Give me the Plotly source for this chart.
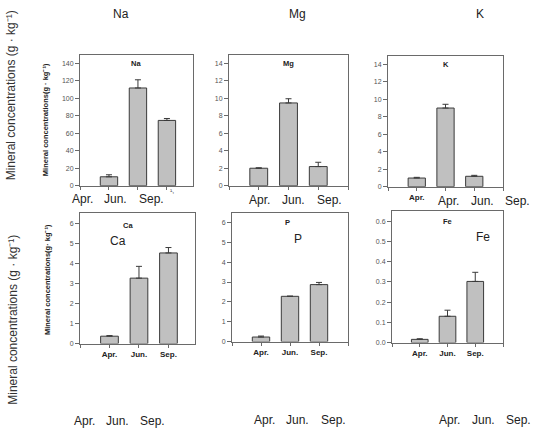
import plotly.graph_objects as go

W, H = 536, 432

months = ["Apr.", "Jun.", "Sep."]
positions = [1, 2, 3]

na = [10.2, 111.8, 74.7]
na_err = [2.3, 9.4, 2.2]
mg = [2.0, 9.47, 2.19]
mg_err = [0.05, 0.48, 0.49]
k = [0.99, 9.0, 1.19]
k_err = [0.08, 0.43, 0.11]
ca = [0.37, 3.27, 4.53]
ca_err = [0.03, 0.59, 0.27]
p = [0.23, 2.28, 2.87]
p_err = [0.05, 0.01, 0.11]
fe = [0.016, 0.130, 0.302]
fe_err = [0.003, 0.030, 0.045]

panels = [
    # name, values, errors, x-dom px, y-dom px, xrange, yrange, y ticks
    ("Na", na, na_err, (80, 193), (55, 187), [0, 3.9], [0, 150], list(range(0, 141, 20)), "{:d}"),
    ("Mg", mg, mg_err, (229, 348), (55, 187), [0, 4], [0, 15], list(range(0, 15, 2)), "{:d}"),
    ("K", k, k_err, (388, 503), (56, 188), [0, 4], [0, 15], list(range(0, 15, 2)), "{:d}"),
    ("Ca", ca, ca_err, (80, 195), (214, 346), [0, 3.9], [0, 6.55], list(range(0, 7)), "{:d}"),
    ("P", p, p_err, (232, 348), (214, 344), [0, 4], [0, 6.5], list(range(0, 7)), "{:d}"),
    ("Fe", fe, fe_err, (392, 503), (212, 345), [0, 4], [0, 0.652], [0, 0.1, 0.2, 0.3, 0.4, 0.5, 0.6], "{:.1f}"),
]

FONT = "Arial, Liberation Sans, sans-serif"
AX = "#6a6a6a"

fig = go.Figure()
layout = dict(
    width=W, height=H, margin=dict(l=0, r=0, t=0, b=0),
    paper_bgcolor="white", plot_bgcolor="white", showlegend=False,
    font=dict(family=FONT),
)

for i, (name, vals, errs, xd, yd, xr, yr, yt, fmt) in enumerate(panels):
    n = "" if i == 0 else str(i + 1)
    fig.add_trace(go.Bar(
        x=positions, y=vals, width=0.6,
        marker=dict(color="#c0c0c0", line=dict(color="#3a3a3a", width=1)),
        error_y=dict(type="data", array=errs, arrayminus=[0] * len(errs), symmetric=False,
                     color="#3a3a3a", thickness=1, width=3),
        xaxis="x" + n, yaxis="y" + n,
    ))
    if i >= 3:
        tv, tt = positions, months
    elif i == 2:
        tv, tt = [1], [months[0]]
    else:
        tv, tt = [], []
    layout["xaxis" + n] = dict(
        domain=[xd[0] / W, xd[1] / W], range=xr, anchor="y" + n,
        tickmode="array", tickvals=tv, ticktext=tt, ticks="outside", ticklen=3,
        tickcolor=AX,
        minor=dict(tickmode="array", tickvals=[0, 1, 2, 3, 4], ticks="outside", ticklen=3, tickcolor=AX),
        showline=True, linecolor=AX, linewidth=1, mirror=True,
        showgrid=False, zeroline=False, fixedrange=True,
        tickfont=dict(size=8, color="#222", family=FONT, weight="bold"),
    )
    layout["yaxis" + n] = dict(
        domain=[1 - yd[1] / H, 1 - yd[0] / H], range=yr, anchor="x" + n,
        tickvals=yt, ticktext=[fmt.format(v) for v in yt], ticks="outside", ticklen=4,
        tickcolor=AX, showline=True, linecolor=AX, linewidth=1, mirror=True,
        showgrid=False, zeroline=False, fixedrange=True,
        tickfont=dict(size=7, color="#555", family=FONT),
    )

fig.update_layout(**layout)


def ann(text, x, y, size=12, bold=False, angle=0, color="#222"):
    fig.add_annotation(
        text=text, x=x / W, y=1 - y / H, xref="paper", yref="paper",
        showarrow=False, textangle=angle, xanchor="center", yanchor="middle",
        font=dict(size=size, color=color, family=FONT, weight="bold" if bold else "normal"),
    )


# top big element labels
ann("Na", 120.5, 14)
ann("Mg", 297, 14)
ann("K", 480, 14)

# big month labels under top panels
for x, m in zip([82, 116, 151], months):
    ann(m, x, 200)
for x, m in zip([259, 293, 329], months):
    ann(m, x, 201)
for x, m in zip([448, 482.5, 517], months):
    ann(m, x, 202)
ann("¹,", 172, 192, size=7, color="#444")

# bottom big month labels
for x, m in zip([84, 117.5, 152.5], months):
    ann(m, x, 424)
for x, m in zip([264, 297.5, 333.5], months):
    ann(m, x, 423)
for x, m in zip([449, 483.5, 518.5], months):
    ann(m, x, 423)

# in-plot small bold titles
ann("Na", 136, 64, size=7.5, bold=True)
ann("Mg", 288, 64, size=7.5, bold=True)
ann("K", 446, 65, size=7.5, bold=True)
ann("Ca", 128, 227, size=7.5, bold=True)
ann("P", 287, 224, size=7.5, bold=True)
ann("Fe", 447, 223, size=7.5, bold=True)

# in-plot big labels
ann("Ca", 118, 243)
ann("P", 298, 241)
ann("Fe", 483, 239)

# big left axis titles
ann("Mineral concentrations (g · kg⁻¹)", 11, 96, size=12, angle=-90, color="#333")
ann("Mineral concentrations (g · kg⁻¹)", 13, 322, size=12, angle=-90, color="#333")

# small bold axis titles
ann("Mineral concentrations(g · kg⁻¹)", 45, 121, size=7.5, bold=True, angle=-90)
ann("Mineral concentrations(g· kg⁻¹)", 47, 282, size=7.5, bold=True, angle=-90)

fig.write_html("out.html")
